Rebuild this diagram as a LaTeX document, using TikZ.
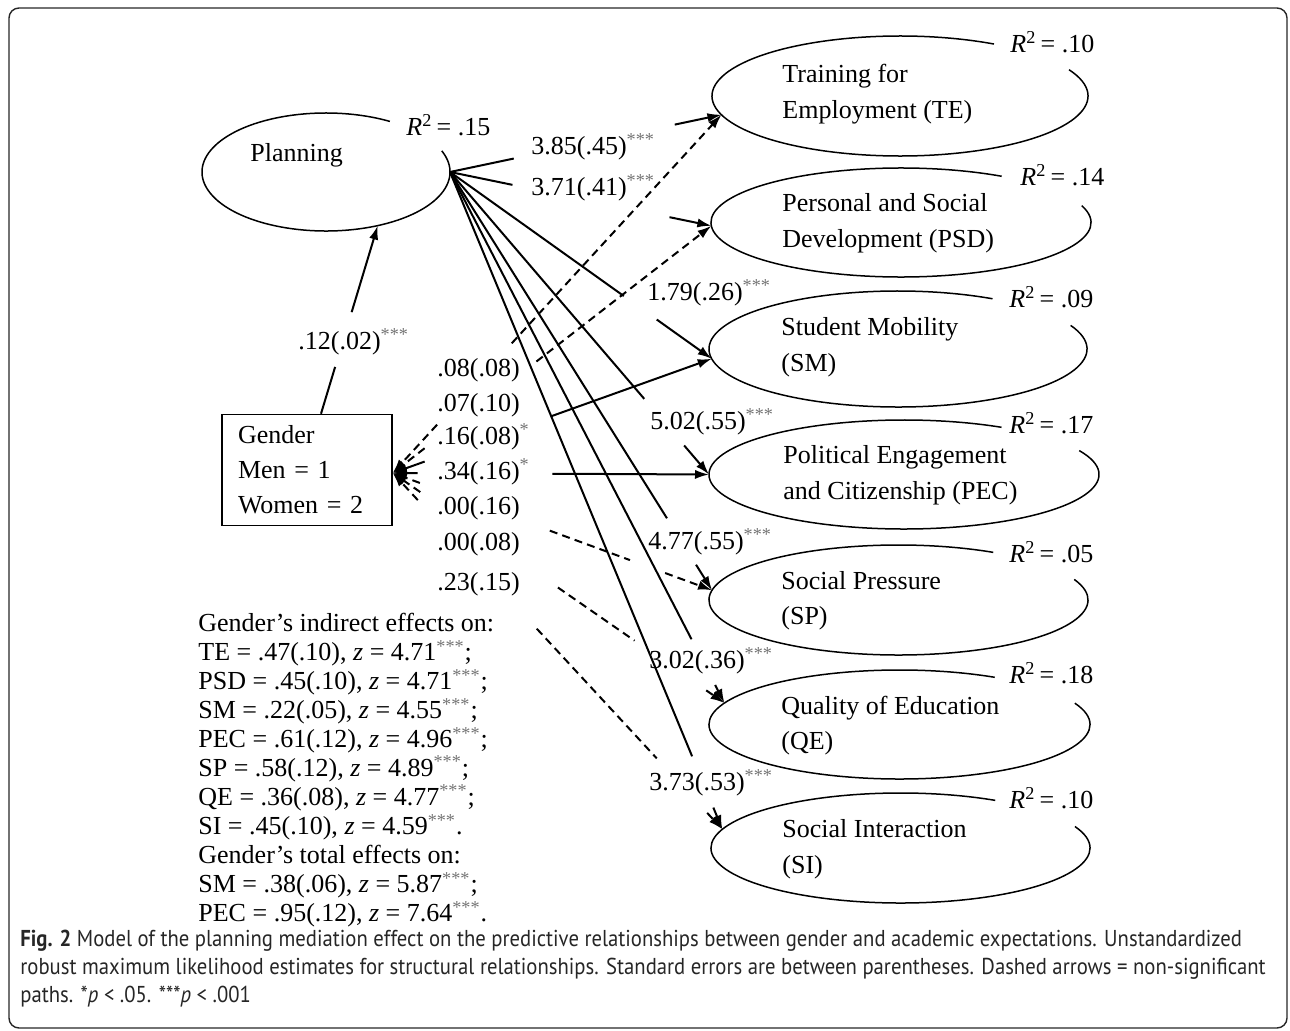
\documentclass[tikz,border=0pt]{standalone}
\usepackage{fontspec}
\setmainfont{Liberation Serif}
\newfontfamily\capfont[FakeStretch=0.9]{PT Sans}
\usetikzlibrary{shapes.geometric, arrows.meta, calc}
\newcommand{\stars}[1]{\textsuperscript{\color{black!55}#1}}
\newcommand{\rsq}[1]{\textit{R}\textsuperscript{2}\,= #1}

\begin{document}
\begin{tikzpicture}[
    x=0.5pt, y=-0.5pt,
    font=\fontsize{13}{15}\selectfont,
    lat/.style 2 args={ellipse, minimum width=#1pt, minimum height=#2pt, inner sep=0pt, outer sep=0pt},
    ell/.style={line width=0.75pt},
    txt/.style={anchor=west, align=left, inner sep=0pt, font=\fontsize{13}{17.75}\selectfont},
    lbl/.style={anchor=west, inner sep=0pt},
    pth/.style={line width=1pt},
    arr/.style={-{Latex[length=7pt, width=4.6pt]}},
    ns/.style={dash pattern=on 4pt off 2.6pt}
]

% frame
\useasboundingbox (0,0) rectangle (1290,1031);
\draw[line width=0.7pt, black!85, rounded corners=5pt] (9,8) rectangle (1287,1028);

% latent variables
\node[lat={124}{59}] (pl) at (326,172) {};
\node[lat={188}{60}] (te) at (900,96) {};
\node[lat={190}{54.5}] (psd) at (901,222.5) {};
\node[lat={189}{58}] (sm) at (898,349) {};
\node[lat={195}{54.5}] (pec) at (904,474.5) {};
\node[lat={189.5}{55}] (sp) at (898.5,600) {};
\node[lat={190.5}{54.5}] (qe) at (899.5,724.5) {};
\node[lat={189.5}{55}] (si) at (900.5,848) {};

% ellipses, open where the R2 sits
\draw[ell] ([shift={(-21:124 and 59)}]pl.center) arc[start angle=-21, end angle=301, x radius=124, y radius=59];
\draw[ell] ([shift={(-26:188 and 60)}]te.center) arc[start angle=-26, end angle=300, x radius=188, y radius=60];
\draw[ell] ([shift={(-18:190 and 54.5)}]psd.center) arc[start angle=-18, end angle=302, x radius=190, y radius=54.5];
\draw[ell] ([shift={(-24:189 and 58)}]sm.center) arc[start angle=-24, end angle=300, x radius=189, y radius=58];
\draw[ell] ([shift={(-26:195 and 54.5)}]pec.center) arc[start angle=-26, end angle=300, x radius=195, y radius=54.5];
\draw[ell] ([shift={(-22:189.5 and 55)}]sp.center) arc[start angle=-22, end angle=300, x radius=189.5, y radius=55];
\draw[ell] ([shift={(-23:190.5 and 54.5)}]qe.center) arc[start angle=-23, end angle=300, x radius=190.5, y radius=54.5];
\draw[ell] ([shift={(-23:189.5 and 55)}]si.center) arc[start angle=-23, end angle=300, x radius=189.5, y radius=55];

% texts in the ellipses
\node[txt] (plt) at (250,155) {Planning};
\node[txt] (tet) at (782,94) {Training for\\Employment (TE)};
\node[txt] (psdt) at (782,223.5) {Personal and Social\\Development (PSD)};
\node[txt] (smt) at (781,347.5) {Student Mobility\\(SM)};
\node[txt] (pect) at (783,475.5) {Political Engagement\\and Citizenship (PEC)};
\node[txt] (spt) at (781,600.5) {Social Pressure\\(SP)};
\node[txt] (qet) at (781,725.5) {Quality of Education\\(QE)};
\node[txt] (sit) at (782,849) {Social Interaction\\(SI)};

% R2 values
\node[lbl] (r2pl) at (406,125) {\rsq{.15}};
\node[lbl] (r2te) at (1010,42) {\rsq{.10}};
\node[lbl] (r2psd) at (1020,175) {\rsq{.14}};
\node[lbl] (r2sm) at (1009,297) {\rsq{.09}};
\node[lbl] (r2pec) at (1009,423) {\rsq{.17}};
\node[lbl] (r2sp) at (1009,552) {\rsq{.05}};
\node[lbl] (r2qe) at (1009,673) {\rsq{.18}};
\node[lbl] (r2si) at (1009,798) {\rsq{.10}};

% observed variable
\node[draw, line width=0.75pt, minimum width=85pt, minimum height=55.5pt, text width=69pt, align=left, inner sep=0pt,
      font=\fontsize{13}{17.5}\selectfont] (gen) at (307,470) {Gender\\Men = 1\\Women = 2};
\coordinate (gin) at ($(gen.east)+(0,3)$);
\coordinate (gout) at ($(gen.north)+(14,0)$);

% estimates, Planning paths
\node[lbl] (bpl) at (298,342) {.12(.02)\stars{***}};
\node[lbl] (bte) at (531,147) {3.85(.45)\stars{***}};
\node[lbl] (bpsd) at (531,188) {3.71(.41)\stars{***}};
\node[lbl] (bsm) at (647,293) {1.79(.26)\stars{***}};
\node[lbl] (bpec) at (650,422) {5.02(.55)\stars{***}};
\node[lbl] (bsp) at (648,542) {4.77(.55)\stars{***}};
\node[lbl] (bqe) at (649,661) {3.02(.36)\stars{***}};
\node[lbl] (bsi) at (649,783) {3.73(.53)\stars{***}};

% estimates, Gender paths
\node[lbl] (gte) at (437,370) {.08(.08)};
\node[lbl] (gpsd) at (437,405) {.07(.10)};
\node[lbl] (gsm) at (437,437) {.16(.08)\stars{*}};
\node[lbl] (gpec) at (437,472) {.34(.16)\stars{*}};
\node[lbl] (gsp) at (437,508) {.00(.16)};
\node[lbl] (gqe) at (437,544) {.00(.08)};
\node[lbl] (gsi) at (437,584) {.23(.15)};

% Gender -> Planning
\draw[pth] (gout) -- ($(gout)!0.249!(pl.-46)$);
\draw[pth, arr] ($(gout)!0.54!(pl.-46)$) -- (pl.-46);

% Planning -> outcomes
\draw[pth] (pl.east) -- ($(pl.east)!0.235!(te.186)$);
\draw[pth, arr] ($(pl.east)!0.828!(te.186)$) -- (te.186);
\draw[pth] (pl.east) -- ($(pl.east)!0.239!(psd.181)$);
\draw[pth, arr] ($(pl.east)!0.84!(psd.181)$) -- (psd.181);
\draw[pth] (pl.east) -- ($(pl.east)!0.664!(sm.183)$);
\draw[pth, arr] ($(pl.east)!0.79!(sm.183)$) -- (sm.183);
\draw[pth] (pl.east) -- ($(pl.east)!0.75!(pec.180)$);
\draw[pth, arr] ($(pl.east)!0.904!(pec.180)$) -- (pec.180);
\draw[pth] (pl.east) -- ($(pl.east)!0.828!(sp.177)$);
\draw[pth, arr] ($(pl.east)!0.939!(sp.177)$) -- (sp.177);
\draw[pth] (pl.east) -- ($(pl.east)!0.88!(qe.173)$);
\draw[pth, arr] ($(pl.east)!0.966!(qe.173)$) -- (qe.173);
\draw[pth] (pl.east) -- ($(pl.east)!0.889!(si.174)$);
\draw[pth, arr] ($(pl.east)!0.967!(si.174)$) -- (si.174);

% Gender -> outcomes
\draw[pth, ns, arr] ($(gin)!0.135!(te.186)$) -- (gin);
\draw[pth, ns, arr] ($(gin)!0.362!(te.186)$) -- (te.186);
\draw[pth, ns, arr] ($(gin)!0.10!(psd.181)$) -- (gin);
\draw[pth, ns, arr] ($(gin)!0.451!(psd.181)$) -- (psd.181);
\draw[pth, arr] ($(gin)!0.10!(sm.183)$) -- (gin);
\draw[pth, arr] ($(gin)!0.498!(sm.183)$) -- (sm.183);
\draw[pth, arr] ($(gin)!0.079!(pec.180)$) -- (gin);
\draw[pth, arr] ($(gin)!0.505!(pec.180)$) -- (pec.180);
\draw[pth, ns, arr] ($(gin)!0.085!(sp.177)$) -- (gin);
\draw[pth, ns] ($(gin)!0.492!(sp.177)$) -- ($(gin)!0.743!(sp.177)$);
\draw[pth, ns, arr] ($(gin)!0.853!(sp.177)$) -- (sp.177);
\draw[pth, ns, arr] ($(gin)!0.083!(qe.173)$) -- (gin);
\draw[pth, ns] ($(gin)!0.498!(qe.173)$) -- ($(gin)!0.729!(qe.173)$);
\draw[pth, ns, arr] ($(gin)!0.945!(qe.173)$) -- (qe.173);
\draw[pth, ns, arr] ($(gin)!0.076!(si.174)$) -- (gin);
\draw[pth, ns] ($(gin)!0.437!(si.174)$) -- ($(gin)!0.801!(si.174)$);
\draw[pth, ns, arr] ($(gin)!0.954!(si.174)$) -- (si.174);

% indirect and total effects
\node[anchor=north west, align=left, inner sep=0pt, font=\fontsize{13}{14.5}\selectfont] (eff) at (198,613) {%
Gender’s indirect effects on:\\
TE = .47(.10), \textit{z} = 4.71\stars{***};\\
PSD = .45(.10), \textit{z} = 4.71\stars{***};\\
SM = .22(.05), \textit{z} = 4.55\stars{***};\\
PEC = .61(.12), \textit{z} = 4.96\stars{***};\\
SP = .58(.12), \textit{z} = 4.89\stars{***};\\
QE = .36(.08), \textit{z} = 4.77\stars{***};\\
SI = .45(.10), \textit{z} = 4.59\stars{***}.\\
Gender’s total effects on:\\
SM = .38(.06), \textit{z} = 5.87\stars{***};\\
PEC = .95(.12), \textit{z} = 7.64\stars{***}.};

% caption
\node[anchor=north west, align=left, inner sep=0pt, text=black!85, font=\capfont\fontsize{11.5}{14}\selectfont] (cap) at (20,930) {%
\textbf{Fig. 2} Model of the planning mediation effect on the predictive relationships between gender and academic expectations. Unstandardized\\
robust maximum likelihood estimates for structural relationships. Standard errors are between parentheses. Dashed arrows = non-significant\\
paths. *\textit{p} < .05. ***\textit{p} < .001};

\end{tikzpicture}
\end{document}
